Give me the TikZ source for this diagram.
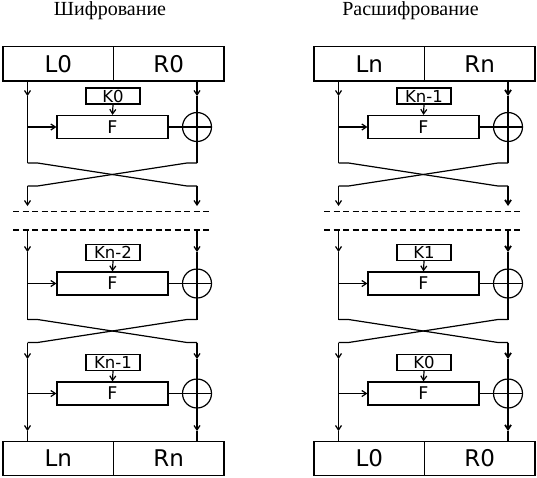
\documentclass[tikz,border=0pt]{standalone}
\usepackage{fontspec}
\setmainfont{Liberation Serif}
\newfontfamily\lblfont{DejaVu Sans}
\usetikzlibrary{arrows.meta}

\newcommand{\fround}[3]{%
  \node[fbox] (#1F) at (112.5,#2) {F};
  \node[kbox] (#1K) at (113,#2-31) {#3};
  \node[xorc] (#1X) at (197,#2) {};
  \draw (#1X.north) -- (#1X.south) (#1X.west) -- (#1X.east);
  \coordinate (#1Lm) at (27.5,#2);
  \draw[arr] (#1Lm) -- (#1F.west);
  \draw[arr] (#1K.south) -- (#1F.north);
  \draw (#1F.east) -- (#1X.west);
}

\newcommand{\feistel}[9]{%
  % boxes
  \node[half] (#1TL) at (58.25,63.75) {#2};
  \node[half] (#1TR) at (168.75,63.75) {#3};
  \node[half] (#1BL) at (58.25,458.5) {#7};
  \node[half] (#1BR) at (168.75,458.5) {#8};
  % rounds
  \fround{#1a}{127}{#4}
  \fround{#1b}{283.5}{#5}
  \fround{#1c}{393.5}{#6}
  % coordinates, left column
  \coordinate (#1t1) at (27.5,81);
  \coordinate (#1aLa) at (27.5,96);
  \coordinate (#1aLc) at (27.5,163);
  \coordinate (#1aLd) at (27.5,186);
  \coordinate (#1aLe) at (27.5,206);
  \coordinate (#1bLs) at (27.5,231);
  \coordinate (#1bLa) at (27.5,252);
  \coordinate (#1bLc) at (27.5,319.5);
  \coordinate (#1bLd) at (27.5,342.5);
  \coordinate (#1cLa) at (27.5,359);
  \coordinate (#1cLe) at (27.5,431);
  \coordinate (#1b1) at (27.5,441);
  % coordinates, right column
  \coordinate (#1t2) at (197,81);
  \coordinate (#1aRa) at (197,96);
  \coordinate (#1aRc) at (197,163);
  \coordinate (#1aRd) at (197,186);
  \coordinate (#1aRe) at (197,206);
  \coordinate (#1bRs) at (197,231);
  \coordinate (#1bRa) at (197,252);
  \coordinate (#1bRc) at (197,319.5);
  \coordinate (#1bRd) at (197,342.5);
  \coordinate (#1cRa) at (197,359);
  \coordinate (#1cRe) at (197,431);
  \coordinate (#1b2) at (197,441);
  % dashed separators
  \coordinate (#1d1a) at (13,211.5);
  \coordinate (#1d1b) at (210,211.5);
  \coordinate (#1d2a) at (13,230);
  \coordinate (#1d2b) at (210,230);
  \draw[dash line] (#1d1a) -- (#1d1b);
  \draw[dash line] (#1d2a) -- (#1d2b);
  % left column
  \draw[arr] (#1t1) -- (#1aLa);
  \draw (#1aLa) -- (#1aLc);
  \draw[arr] (#1aLd) -- (#1aLe);
  \draw[arr] (#1bLs) -- (#1bLa);
  \draw (#1bLa) -- (#1bLc);
  \draw[arr] (#1bLd) -- (#1cLa);
  \draw[arr] (#1cLa) -- (#1cLe);
  \draw (#1cLe) -- (#1b1);
  % right column
  \begin{scope}[line width=#9]
  \draw[arr] (#1t2) -- (#1aRa);
  \draw (#1aRa) -- (#1aX.north);
  \draw (#1aX.south) -- (#1aRc);
  \draw[arr] (#1aRd) -- (#1aRe);
  \draw[arr] (#1bRs) -- (#1bRa);
  \draw (#1bRa) -- (#1bX.north);
  \draw (#1bX.south) -- (#1bRc);
  \draw[arr] (#1bRd) -- (#1cRa);
  \draw (#1cRa) -- (#1cX.north);
  \draw[arr] (#1cX.south) -- (#1cRe);
  \draw (#1cRe) -- (#1b2);
  \end{scope}
  % crossings
  \draw (#1aLc) -- ++(10,0) -- ++(149.5,23) -- (#1aRd);
  \draw (#1aRc) -- ++(-10,0) -- ++(-149.5,23) -- (#1aLd);
  \draw (#1bLc) -- ++(10,0) -- ++(149.5,23) -- (#1bRd);
  \draw (#1bRc) -- ++(-10,0) -- ++(-149.5,23) -- (#1bLd);
}

\begin{document}
\begin{tikzpicture}[x=1pt,y=-1pt,line width=1.2pt,
  half/.style={draw, minimum width=110.5pt, minimum height=34.5pt, inner sep=0pt,
    font=\lblfont\fontsize{23}{23}\selectfont},
  kbox/.style={draw, minimum width=54pt, minimum height=16pt, inner sep=0pt,
    font=\lblfont\fontsize{16.5}{16.5}\selectfont},
  fbox/.style={draw, minimum width=111pt, minimum height=23pt, inner sep=0pt,
    font=\lblfont\fontsize{17.5}{17.5}\selectfont},
  xorc/.style={draw, circle, minimum size=29pt, inner sep=0pt},
  arr/.style={-{Straight Barb[length=4.5pt,width=6pt]}},
  dash line/.style={dash pattern=on 6pt off 3.5pt},
  title/.style={font=\fontsize{20}{20}\selectfont, anchor=base}
]
\useasboundingbox (0,0) rectangle (537,477);
\node[title] (enc) at (110,15.5) {Шифрование};
\node[title] (dec) at (410.5,15.5) {Расшифрование};
\feistel{E}{L0}{R0}{K0}{Kn-2}{Kn-1}{Ln}{Rn}{1.2pt}
\begin{scope}[xshift=311pt]
\feistel{D}{Ln}{Rn}{Kn-1}{K1}{K0}{L0}{R0}{1.8pt}
\end{scope}
\end{tikzpicture}
\end{document}
